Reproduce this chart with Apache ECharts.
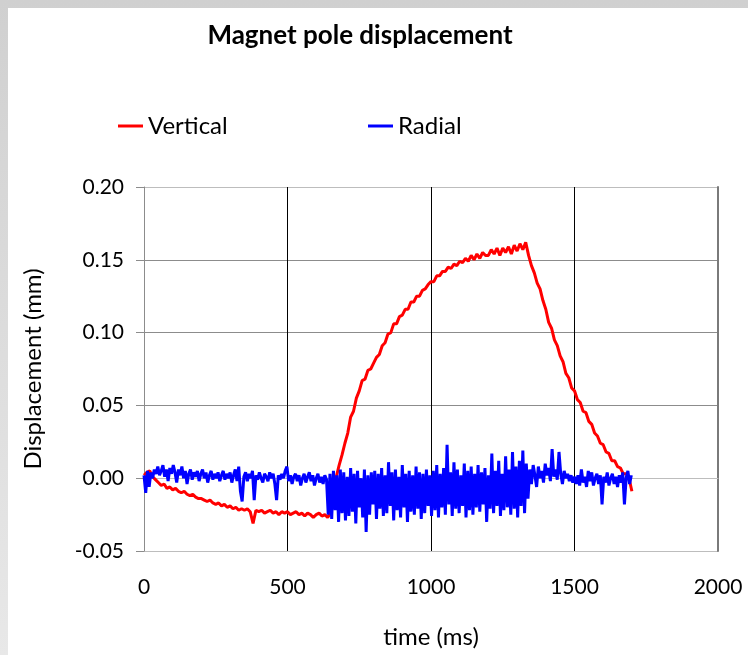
<!DOCTYPE html>
<html>
<head>
<meta charset="utf-8">
<script src="https://cdn.jsdelivr.net/npm/echarts@6/dist/echarts.min.js"></script>
<style>
  html, body { margin: 0; padding: 0; }
  body {
    width: 748px; height: 655px; overflow: hidden;
    background: linear-gradient(#d0d0d0, #e8e8e8);
  }
  #chart {
    position: absolute; left: 8px; top: 8px;
    width: 740px; height: 647px; background: #fff;
  }
</style>
</head>
<body>
<div id="chart"></div>
<script>
// values in micrometres (0.001 mm)
// Vertical: one sample every 10 ms, from 0 ms
var verticalStep = 10;
var verticalUm = [
  2, 4, 5, 1, -1, -3, -5, -4, -7, -6,
  -8, -7, -9, -10, -9, -11, -12, -11, -13, -14,
  -14, -15, -16, -15, -17, -18, -17, -19, -18, -20,
  -19, -21, -20, -22, -21, -22, -21, -23, -31, -22,
  -23, -22, -24, -23, -22, -24, -23, -25, -23, -24,
  -23, -25, -24, -23, -25, -24, -26, -24, -25, -27,
  -25, -24, -26, -25, -27, -24, -8, 1, 9, 16,
  24, 31, 42, 46, 55, 60, 67, 68, 74, 75,
  79, 83, 85, 91, 93, 99, 100, 106, 106, 111,
  112, 116, 116, 121, 121, 125, 125, 129, 130, 133,
  135, 135, 139, 139, 142, 142, 145, 144, 147, 146,
  149, 148, 151, 149, 153, 150, 154, 151, 155, 153,
  153, 157, 154, 158, 153, 158, 155, 159, 154, 160,
  156, 161, 157, 162, 153, 146, 141, 134, 130, 122,
  116, 107, 103, 95, 91, 84, 80, 72, 69, 62,
  60, 54, 52, 46, 45, 39, 37, 31, 29, 24,
  23, 18, 17, 12, 12, 8, 7, 3, 3, 0,
  -9
];

// Radial: one sample every 6 ms, from 0 ms
var radialStep = 6;
var radialUm = [
  // 0 - 636 ms
  2, -10, 5, -6, 4, 0, 6, 3, 8, 2, 5, 9, 1, 6, -2, 7, 3, 9, 4, -3,
  6, 2, 8, 0, 5, -4, 3, 6, -1, 4, 1, 5, -2, 3, 6, 0, 4, -3, 2, 5,
  -1, 3, 0, 4, -2, 2, 5, -1, 3, 0, 4, -3, 2, 6, -2, 8, -9, -16, 1, 4,
  -2, 3, 0, 5, -15, 2, -1, 4, 0, -3, 3, 1, -2, 4, 0, 3, -4, -15, 2, -1,
  3, 0, 5, 8, -2, 2, -4, 1, 3, -2, 2, -5, 0, 3, -3, 1, 4, -2, 2, -5,
  0, 3, -3, 1, -4, 2, -1,
  // 642 - 1338 ms
  -25, 3, -28, 5, -22, 2, -30, 6, -24, 4, -29, 1, -26, 7, -23, 3, -31, 5, -20, 0,
  -27, 6, -37, 2, -25, 4, -18, 5, -28, 3, -21, 7, -26, 2, -24, 11, -19, 4, -29, 6,
  -22, 1, -27, 9, -20, 3, -30, 5, -23, 2, -25, 8, -21, 4, -28, 3, -24, 6, -19, 2,
  -26, 5, -22, 9, -27, 3, -20, 7, -25, 23, -18, 4, -26, 11, -21, 6, -24, 2, -19, 10,
  -27, 5, -22, 8, -25, 3, -20, 9, -23, 4, -18, 7, -30, 2, -21, 17, -24, 5, -19, 12,
  -26, 3, -22, 15, -20, 6, -25, 18, -21, 8, -27, 12, -19, 19, -24, 10, -14,
  // 1344 - 1698 ms
  6, -4, 9, 2, -6, 8, 0, 5, -3, 10, 2, 7, -2, 20, 1, 6, -1, 18, 3, -4,
  5, 0, 3, -2, 2, -3, 1, -4, 2, -5, 6, -3, 1, -6, 5, -2, 4, -5, 0, 3,
  -4, 2, -18, 1, -3, 4, -5, 0, 3, -4, 1, -6, 2, -3, 4, -18, 0, 5, -4, 2
];

var xTicks = [0, 500, 1000, 1500, 2000];
var yTicks = [-0.05, 0, 0.05, 0.1, 0.15, 0.2];

var verticalData = verticalUm.map(function (v, i) { return [i * verticalStep, v / 1000]; });
var radialData = radialUm.map(function (v, i) { return [i * radialStep, v / 1000]; });

var font = 'Lato, "Open Sans", sans-serif';

var opt = {
  animation: false,
  textStyle: { fontFamily: font, color: '#000' },
  title: {
    text: 'Magnet pole displacement',
    left: 347, top: 10, textAlign: 'center',
    textStyle: { fontFamily: font, fontSize: 26, fontWeight: 'bold', color: '#000' }
  },
  legend: [
    {
      data: ['Vertical'], left: 110, top: 106, padding: 0,
      icon: 'rect', itemWidth: 25, itemHeight: 3, itemGap: 0,
      textStyle: { fontFamily: font, fontSize: 24, color: '#000' }
    },
    {
      data: ['Radial'], left: 360, top: 106, padding: 0,
      icon: 'rect', itemWidth: 25, itemHeight: 3, itemGap: 0,
      textStyle: { fontFamily: font, fontSize: 24, color: '#000' }
    }
  ],
  grid: { left: 136, right: 30, top: 179, bottom: 104 },
  xAxis: {
    type: 'value',
    min: xTicks[0], max: xTicks[xTicks.length - 1], interval: 500,
    name: 'time (ms)', nameLocation: 'middle', nameGap: 74,
    nameTextStyle: { fontFamily: font, fontSize: 24, color: '#000' },
    axisLine: { show: true, lineStyle: { color: '#bdbdbd', width: 1 } },
    axisTick: { show: false },
    axisLabel: {
      fontFamily: font, fontSize: 21, color: '#000', margin: 26,
      formatter: function (v) { return String(v); }
    },
    splitLine: { show: true, lineStyle: { color: ['#8c8c8c', '#000', '#000', '#000', '#808080'], width: 1 } }
  },
  yAxis: [
    {
      type: 'value',
      min: yTicks[0], max: yTicks[yTicks.length - 1], interval: 0.05,
      name: 'Displacement (mm)', nameLocation: 'middle', nameGap: 99, nameRotate: 90,
      nameTextStyle: { fontFamily: font, fontSize: 24, color: '#000' },
      axisLine: { show: true, lineStyle: { color: '#8c8c8c', width: 1 } },
      axisTick: { show: true, length: 8, lineStyle: { color: '#8c8c8c' } },
      axisLabel: {
        fontFamily: font, fontSize: 21, color: '#000', margin: 20,
        formatter: function (v) { return v.toFixed(2); }
      },
      splitLine: { show: true, lineStyle: { color: ['#bdbdbd', '#8c8c8c', '#8c8c8c', '#8c8c8c', '#8c8c8c', '#bdbdbd'], width: 1 } }
    },
    {
      type: 'value', position: 'right',
      min: yTicks[0], max: yTicks[yTicks.length - 1], interval: 0.05,
      axisLine: { show: true, lineStyle: { color: '#7a7a7a', width: 2 } },
      axisTick: { show: false }, axisLabel: { show: false }, splitLine: { show: false }
    }
  ],
  series: [
    {
      name: 'Vertical', type: 'line', data: verticalData,
      showSymbol: false, symbol: 'none',
      itemStyle: { color: '#ff0000' },
      lineStyle: { color: '#ff0000', width: 3 }
    },
    {
      name: 'Radial', type: 'line', data: radialData,
      showSymbol: false, symbol: 'none',
      itemStyle: { color: '#0000ff' },
      lineStyle: { color: '#0000ff', width: 3 }
    }
  ]
};

var chart = echarts.init(document.getElementById('chart'));
chart.setOption(opt);
</script>
</body>
</html>
